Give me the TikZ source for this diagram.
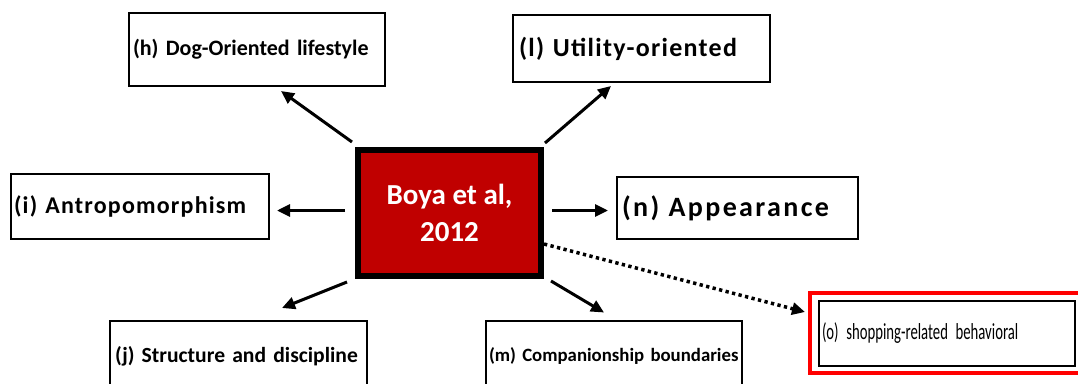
\documentclass[tikz,border=0pt]{standalone}
\usepackage{fontspec}
\setmainfont{Carlito}
\newfontfamily\condfont[FakeStretch=0.64,WordSpace=0.6]{Carlito}
\usetikzlibrary{arrows.meta,shadows,calc}
\definecolor{boxred}{RGB}{192,0,0}
\definecolor{framered}{RGB}{255,0,0}
\tikzset{
  catbox/.style={draw=black, line width=2pt, fill=white, inner sep=0pt, inner xsep=4pt,
    align=left, font=\bfseries,
    drop shadow={shadow xshift=1.2pt, shadow yshift=-1.2pt, opacity=1, fill=black}},
  arr/.style={line width=3pt, -{Triangle[length=13pt,width=12pt]}},
  dotarr/.style={line width=3.5pt, dash pattern=on 3.3pt off 3.4pt, -{Triangle[length=13pt,width=12pt]}},
}
\begin{document}
\begin{tikzpicture}[x=1pt,y=-1pt]
\useasboundingbox (0,0) rectangle (1078,383);
% central
\node[draw=black, line width=6pt, fill=boxred, minimum width=183pt, minimum height=126pt,
  inner sep=0pt, text=white, align=center, font=\bfseries\fontsize{29}{37}\selectfont]
  (c) at (449.5,213) {Boya et al,\\2012};
% boxes
\node[catbox, text width=248pt, minimum height=73pt, inner xsep=4pt,
  font=\bfseries\fontsize{22}{26}\selectfont] (h) at (257,49.5) {\mbox{(h) Dog-Oriented lifestyle}};
\node[catbox, text width=245pt, minimum height=67pt, inner xsep=6pt,
  font=\bfseries\fontsize{26}{30}\selectfont\addfontfeatures{LetterSpace=5}] (l) at (641.5,48.5) {\mbox{(l) Utility-oriented}};
\node[catbox, text width=252pt, minimum height=65pt, inner xsep=3pt,
  font=\bfseries\fontsize{24}{28}\selectfont\addfontfeatures{LetterSpace=5}] (i) at (140,206.5) {\mbox{(i) Antropomorphism}};
\node[catbox, text width=231pt, minimum height=62pt, inner xsep=5pt,
  font=\bfseries\fontsize{28}{32}\selectfont\addfontfeatures{LetterSpace=8.5}] (n) at (737.5,208) {\mbox{(n) Appearance}};
\node[catbox, text width=247pt, minimum height=70pt, inner xsep=5pt,
  font=\bfseries\fontsize{21.6}{26}\selectfont] (j) at (238.5,356) {\mbox{(j) Structure and discipline}};
\node[catbox, text width=250pt, minimum height=70pt, inner xsep=3pt,
  font=\bfseries\fontsize{18.8}{23}\selectfont] (m) at (614,356) {\mbox{(m) Companionship boundaries}};
% shopping box
\node[draw=framered, line width=4pt, minimum width=272pt, minimum height=80pt, inner sep=0pt]
  (oframe) at (946,333) {};
\node[catbox, text width=250pt, minimum height=65pt, inner xsep=3pt,
  font=\condfont\mdseries\fontsize{23}{26}\selectfont] (o) at (947,333.5) {\mbox{(o) shopping-related behavioral}};
% connectors
\draw[arr] ($(c.north west)+(-3,-5)$) -- ($(h.south)+(24,4)$);
\draw[arr] ($(c.north east)+(1,-4)$) -- ($(l.south)+(-30.5,3)$);
\draw[arr] ($(c.west)+(-10,-2.5)$) -- ($(i.east)+(7,4)$);
\draw[arr] ($(c.east)+(8,-2.5)$) -- ($(n.west)+(-8,2.5)$);
\draw[arr] ($(c.south west)+(-8,3)$) -- ($(j.north)+(43.5,-12)$);
\draw[arr] ($(c.south east)+(7,2)$) -- ($(m.north)+(-10,-7.5)$);
\draw[dotarr] ($(c.east)+(0,31)$) -- ($(oframe.west)+(-3,-21)$);
\end{tikzpicture}
\end{document}
